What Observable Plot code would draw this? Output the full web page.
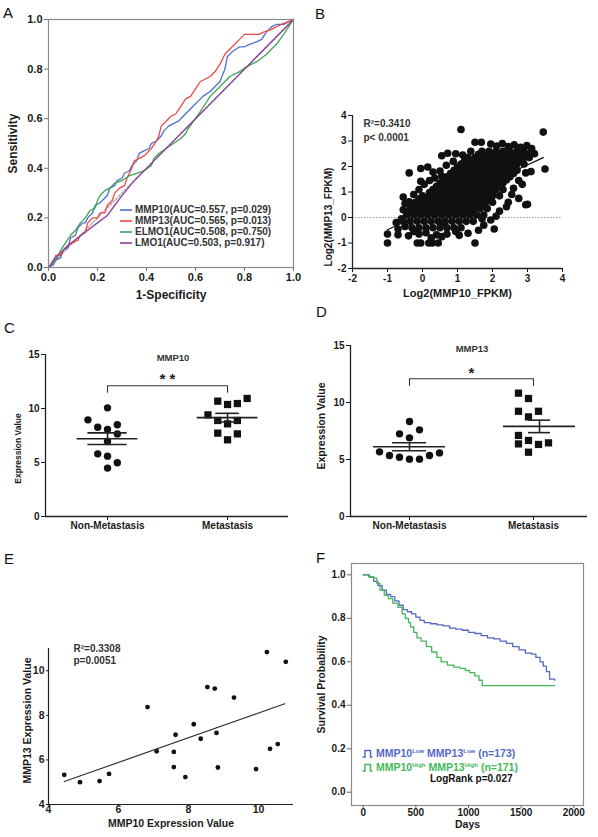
<!DOCTYPE html>
<html><head><meta charset="utf-8">
<script src="https://cdn.jsdelivr.net/npm/d3@7"></script>
<script src="https://cdn.jsdelivr.net/npm/@observablehq/plot@0.6"></script>
<style>
body{margin:0;background:#fff;}
#fig{position:relative;width:598px;height:837px;overflow:hidden;font-family:"Liberation Sans",Arial,Helvetica,sans-serif;background:#fff;}
.panel{position:absolute;}
.letter{position:absolute;font-size:15px;line-height:15px;color:#111;}
.leg{position:absolute;font-weight:bold;white-space:nowrap;display:flex;align-items:center;}
.leg svg{margin-right:3px;}
.leg sup{font-size:6px;vertical-align:4px;}
</style></head><body><div id="fig"></div>
<script>
const FONT = '"Liberation Sans", Arial, Helvetica, sans-serif';

// ---------- Panel A : ROC curves ----------
const rocNames = ["MMP10", "MMP13", "ELMO1", "LMO1"];
const rocLegend = ["MMP10(AUC=0.557, p=0.029)", "MMP13(AUC=0.565, p=0.013)", "ELMO1(AUC=0.508, p=0.750)", "LMO1(AUC=0.503, p=0.917)"];
const rocColors = ["#4d6fd0", "#f04848", "#3ea653", "#8d3f9d"];
const rocTicks = [0, 0.2, 0.4, 0.6, 0.8, 1.0];
const rocMMP10 = [[0,0],[0.02,0.01],[0.03,0.03],[0.05,0.04],[0.06,0.07],[0.08,0.08],[0.09,0.12],[0.11,0.13],[0.12,0.16],[0.14,0.18],[0.15,0.18],[0.16,0.2],[0.18,0.22],[0.19,0.25],[0.21,0.26],[0.22,0.27],[0.24,0.29],[0.25,0.32],[0.27,0.33],[0.28,0.35],[0.3,0.36],[0.31,0.38],[0.33,0.39],[0.34,0.41],[0.36,0.43],[0.37,0.46],[0.39,0.47],[0.41,0.48],[0.42,0.5],[0.44,0.51],[0.46,0.53],[0.47,0.55],[0.49,0.57],[0.51,0.58],[0.53,0.59],[0.54,0.6],[0.57,0.63],[0.59,0.65],[0.61,0.67],[0.63,0.69],[0.66,0.71],[0.68,0.73],[0.7,0.75],[0.72,0.8],[0.73,0.85],[0.75,0.87],[0.78,0.89],[0.8,0.89],[0.82,0.9],[0.85,0.91],[0.87,0.92],[0.89,0.95],[0.91,0.97],[0.93,0.98],[0.96,0.98],[0.98,0.99],[1,1]];
const rocMMP13 = [[0,0],[0.02,0.02],[0.03,0.05],[0.05,0.05],[0.06,0.07],[0.08,0.09],[0.1,0.1],[0.12,0.11],[0.13,0.13],[0.15,0.14],[0.16,0.18],[0.18,0.2],[0.2,0.2],[0.21,0.22],[0.23,0.22],[0.24,0.25],[0.26,0.27],[0.27,0.3],[0.29,0.32],[0.31,0.33],[0.32,0.36],[0.34,0.4],[0.35,0.43],[0.37,0.44],[0.39,0.45],[0.4,0.46],[0.42,0.48],[0.44,0.51],[0.45,0.53],[0.46,0.57],[0.48,0.59],[0.5,0.61],[0.52,0.62],[0.54,0.65],[0.56,0.68],[0.58,0.69],[0.6,0.72],[0.62,0.75],[0.64,0.76],[0.66,0.77],[0.68,0.79],[0.7,0.82],[0.72,0.86],[0.74,0.88],[0.76,0.9],[0.78,0.92],[0.8,0.94],[0.83,0.94],[0.86,0.94],[0.88,0.95],[0.91,0.96],[0.95,0.98],[1,1]];
const rocELMO1 = [[0,0],[0.03,0.03],[0.05,0.07],[0.07,0.1],[0.09,0.13],[0.11,0.15],[0.13,0.18],[0.15,0.2],[0.17,0.23],[0.19,0.24],[0.2,0.27],[0.21,0.29],[0.23,0.31],[0.25,0.32],[0.27,0.34],[0.3,0.35],[0.33,0.37],[0.36,0.38],[0.39,0.39],[0.42,0.41],[0.43,0.44],[0.45,0.46],[0.48,0.48],[0.51,0.5],[0.54,0.52],[0.56,0.54],[0.57,0.56],[0.6,0.6],[0.62,0.63],[0.66,0.69],[0.7,0.73],[0.74,0.77],[0.78,0.79],[0.81,0.81],[0.85,0.83],[0.89,0.86],[0.93,0.9],[0.96,0.94],[1,1]];
const rocLMO1 = [[0,0],[0.02,0.03],[0.04,0.05],[0.08,0.09],[0.12,0.12],[0.16,0.15],[0.2,0.18],[0.24,0.21],[0.27,0.25],[0.3,0.29],[0.35,0.35],[0.45,0.45],[0.6,0.6],[0.8,0.8],[1,1]];
const rocDiag = [0, 1];

// ---------- Panel B : FPKM scatter ----------
const bTicks = [-2, -1, 0, 1, 2, 3, 4];
// dense core, read as rows
const bRowY = [2.6, 2.475, 2.35, 2.225, 2.1, 1.975, 1.85, 1.725, 1.6, 1.475, 1.35, 1.225, 1.1, 0.975, 0.85, 0.725, 0.6, 0.475, 0.35, 0.225, 0.1, -0.15, -0.4];
const bRowX = [
  [1.7, 1.9, 2.1, 2.3, 2.5, 2.7, 2.9],
  [1.6, 1.8, 2.0, 2.2, 2.4, 2.6, 2.8, 3.0],
  [1.3, 1.5, 1.7, 1.9, 2.1, 2.3, 2.5, 2.7, 2.9],
  [1.2, 1.4, 1.6, 1.8, 2.0, 2.2, 2.4, 2.6, 2.8],
  [1.1, 1.3, 1.5, 1.7, 1.9, 2.1, 2.3, 2.5, 2.7],
  [1.0, 1.2, 1.4, 1.6, 1.8, 2.0, 2.2, 2.4, 2.6],
  [0.9, 1.1, 1.3, 1.5, 1.7, 1.9, 2.1, 2.3, 2.5, 2.7],
  [0.8, 1.0, 1.2, 1.4, 1.6, 1.8, 2.0, 2.2, 2.4, 2.6],
  [0.7, 0.9, 1.1, 1.3, 1.5, 1.7, 1.9, 2.1, 2.3, 2.5],
  [0.6, 0.8, 1.0, 1.2, 1.4, 1.6, 1.8, 2.0, 2.2, 2.4],
  [0.5, 0.7, 0.9, 1.1, 1.3, 1.5, 1.7, 1.9, 2.1, 2.3],
  [0.4, 0.6, 0.8, 1.0, 1.2, 1.4, 1.6, 1.8, 2.0, 2.2],
  [0.3, 0.5, 0.7, 0.9, 1.1, 1.3, 1.5, 1.7, 1.9, 2.1, 2.3],
  [0.2, 0.4, 0.6, 0.8, 1.0, 1.2, 1.4, 1.6, 1.8, 2.0],
  [0.0, 0.2, 0.4, 0.6, 0.8, 1.0, 1.2, 1.4, 1.6, 1.8, 2.0, 2.2],
  [-0.1, 0.1, 0.3, 0.5, 0.7, 0.9, 1.1, 1.3, 1.5, 1.7, 1.9],
  [-0.2, 0.0, 0.2, 0.4, 0.6, 0.8, 1.0, 1.2, 1.4, 1.6, 1.8, 2.0],
  [-0.25, -0.05, 0.15, 0.35, 0.55, 0.75, 0.95, 1.15, 1.35, 1.55, 1.75],
  [-0.35, -0.15, 0.05, 0.25, 0.45, 0.65, 0.85, 1.05, 1.25, 1.45, 1.65, 1.85],
  [-0.35, -0.15, 0.05, 0.25, 0.45, 0.65, 0.85, 1.05, 1.25, 1.45],
  [-0.45, -0.25, -0.05, 0.15, 0.35, 0.55, 0.75, 0.95, 1.15, 1.35, 1.55, 1.75],
  [-0.55, -0.35, -0.15, 0.05, 0.25, 0.45, 0.65, 0.85, 1.05, 1.25, 1.45],
  [-0.3, -0.1, 0.1, 0.3, 0.5, 0.7, 0.9, 1.1]
];
// irregular edge and outlying points
const bEdgeX = [1.95, 2.12, 2.28, 2.45, 2.62, 2.8, 2.98, 3.12, 3.2, 3.05, 1.5, 1.68, 1.38, 1.15, 0.95, 0.72, 0.55, 0.88, 0.68, 1.1, 3.45,
  2.9, 2.95, 2.75, 2.85, 3.1, 3.5, 2.6, 2.55, 2.45, 2.4, 2.95, 2.75, 2.2, 2.1, 1.95, 2.05, 1.75, 1.6, 1.7,
  1.5, 1.3, 1.05, 0.95, 0.7, 0.55, 0.4, 0.25, 0.1, -0.1, -0.25, 0.45, 0.28, 0.18, -0.05, -0.15, -0.4, -0.7, -0.7, -1.0, -1.0, -0.5, -0.75, -0.6,
  -0.55, -0.5, -0.55, -0.38, -0.25, -0.1, 0.05, -0.05, 0.2, 0.3, 0.5, 0.35, 0.55, -0.05, -0.38, 0.15, 3.0, 0.6];
const bEdgeY = [2.88, 2.8, 2.9, 2.78, 2.85, 2.75, 2.82, 2.7, 2.5, 2.35, 2.95, 2.95, 2.6, 2.45, 2.5, 2.52, 2.42, 2.2, 2.05, 3.45, 3.35,
  2.1, 1.75, 1.45, 1.3, 1.8, 1.9, 1.15, 0.9, 0.6, 0.42, 0.5, 0.75, 0.25, 0.05, -0.1, -0.45, -0.3, -0.5, -0.05,
  -1.0, -0.62, -0.7, -0.55, -0.65, -0.75, -0.68, -0.8, -0.6, -0.65, -0.55, -1.0, -1.0, -1.0, -1.0, -1.0, -0.72, -0.68, -0.45, -0.65, -1.0, -0.35, -0.2, -0.05,
  0.3, 0.55, 0.8, 0.62, 0.9, 1.1, 1.3, 1.42, 1.45, 1.78, 1.82, 1.55, 1.62, 1.92, 1.75, 1.98, 0.52, -0.2];
const bFitX = [-1.0, 3.45];
const bFitY = [-0.48, 2.35];

// ---------- Panels C, D : dot plots ----------
const groups = ["Non-Metastasis", "Metastasis"];
const cNonV = [10.06, 8.95, 8.27, 8.06, 8.49, 7.65, 6.94, 5.80, 5.59, 4.97, 4.48];
const cNonSlot = [0, -2, -1, 0, 1, 1, 0, -1, 0, 1, 0];
const cMetV = [10.68, 10.37, 10.46, 10.93, 9.41, 8.89, 8.58, 8.89, 7.72, 7.65, 7.10];
const cMetSlot = [-1, 0, 1, 2, -2, -1, 0, 1, -1, 1, 0];
const dNonV = [8.33, 7.6, 7.25, 6.9, 5.67, 5.35, 5.2, 5.03, 5.03, 5.35, 5.58];
const dNonSlot = [0, 1, -1, 0, -3, -2, -1, 0, 1, 2, 3];
const dMetV = [10.82, 10.35, 9.23, 9.23, 8.74, 7.11, 6.67, 6.37, 6.32, 6.46, 5.64];
const dMetSlot = [-1.5, -0.5, -1.5, 0.5, -0.5, -1.5, -0.5, -1.5, 0.5, 1.5, -0.5];
const exprTicks = [0, 5, 10, 15];

// ---------- Panel E : expression scatter ----------
const eX = [4.45, 4.90, 5.46, 5.73, 6.83, 7.09, 7.58, 7.58, 7.63, 7.91, 8.15, 8.35, 8.54, 8.75, 8.80, 8.84, 9.30, 9.93, 10.24, 10.33, 10.55, 10.78];
const eY = [5.33, 5.0, 5.05, 5.37, 8.37, 6.39, 6.36, 5.68, 7.13, 5.23, 7.6, 6.95, 9.27, 9.2, 7.21, 5.66, 8.8, 5.59, 10.84, 6.5, 6.71, 10.4];
const eFitX = [4.45, 10.75];
const eFitY = [5.03, 8.52];
const eTicks = [4, 6, 8, 10];

// ---------- Panel F : survival ----------
const fLowDays = [0, 60, 100, 140, 180, 220, 260, 300, 340, 380, 420, 460, 500, 540, 580, 640, 700, 760, 820, 880, 940, 1000, 1060, 1120, 1180, 1240, 1300, 1360, 1420, 1480, 1540, 1600, 1640, 1680, 1710, 1740, 1770, 1820];
const fLowSurv = [1.0, 0.99, 0.97, 0.95, 0.93, 0.91, 0.9, 0.88, 0.86, 0.84, 0.83, 0.82, 0.805, 0.79, 0.78, 0.775, 0.77, 0.765, 0.755, 0.75, 0.745, 0.735, 0.73, 0.72, 0.71, 0.705, 0.695, 0.685, 0.67, 0.655, 0.64, 0.635, 0.62, 0.6, 0.58, 0.555, 0.52, 0.515];
const fHighDays = [0, 50, 100, 130, 160, 200, 240, 280, 330, 370, 400, 430, 450, 480, 510, 550, 600, 650, 700, 740, 800, 860, 920, 970, 1010, 1060, 1100, 1130, 1820];
const fHighSurv = [1.0, 0.99, 0.985, 0.96, 0.93, 0.905, 0.89, 0.87, 0.85, 0.82, 0.80, 0.78, 0.76, 0.735, 0.71, 0.695, 0.67, 0.645, 0.62, 0.60, 0.585, 0.575, 0.57, 0.56, 0.55, 0.535, 0.515, 0.49, 0.49];
const fColors = ["#5468c6", "#45b85a"];
const fDayTicks = [0, 500, 1000, 1500, 2000];
const fProbTicks = [0, 0.2, 0.4, 0.6, 0.8, 1.0];

// ================= rendering =================
const fig = document.getElementById("fig");
function place(node, left, top) {
  const d = document.createElement("div");
  d.className = "panel"; d.style.left = left + "px"; d.style.top = top + "px";
  d.appendChild(node); fig.appendChild(d); return d;
}
function letter(t, left, top) {
  const d = document.createElement("div");
  d.className = "letter"; d.textContent = t; d.style.left = left + "px"; d.style.top = top + "px";
  fig.appendChild(d);
}
function baseStyle(size) {
  return {fontFamily: FONT, fontSize: size + "px", fontWeight: "bold", color: "#1a1a1a", background: "transparent", overflow: "visible"};
}
const f1 = d3.format(".1f");
const plain = d => String(d);
const ylab = (t, dx, dy, size) => Plot.text([t], {text: d => d, frameAnchor: "left", textAnchor: "middle", dx, dy, rotate: -90, fontSize: size});
const xlab = (t, dy, size) => Plot.text([t], {text: d => d, frameAnchor: "bottom", textAnchor: "middle", dy, fontSize: size});

// Panel A
const rocCurves = [rocMMP10, rocMMP13, rocELMO1, rocLMO1];
const rocRows = rocNames.flatMap((name, i) => rocCurves[i].map(([fpr, tpr]) => ({name, fpr, tpr})));
place(Plot.plot({
  width: 300, height: 310, marginLeft: 48, marginRight: 7, marginTop: 19, marginBottom: 43,
  style: baseStyle(11),
  x: {domain: [0, 1]}, y: {domain: [0, 1]},
  color: {domain: rocNames, range: rocColors},
  marks: [
    Plot.line(rocDiag, {x: d => d, y: d => d, stroke: "#aaa", strokeDasharray: "2,2"}),
    Plot.line(rocRows, {x: "fpr", y: "tpr", z: "name", stroke: "name", strokeWidth: 1.3}),
    Plot.frame({stroke: "#8a8a8a", strokeWidth: 1.2}),
    Plot.axisX({ticks: rocTicks, tickFormat: f1, tickSize: 4, tickPadding: 2, stroke: "#777", label: null}),
    Plot.axisY({ticks: rocTicks, tickFormat: f1, tickSize: 4, tickPadding: 2, stroke: "#777", label: null}),
    xlab("1-Specificity", 31, 12),
    ylab("Sensitivity", -35, 0, 12)
  ]
}), 0, 0);
rocLegend.forEach((t, i) => {
  const d = document.createElement("div");
  d.className = "leg";
  d.style.left = "120px"; d.style.top = (204 + 11 * i) + "px"; d.style.fontSize = "10px"; d.style.color = "#333";
  d.innerHTML = `<svg width="12" height="10"><line x1="0" x2="12" y1="5" y2="5" stroke="${rocColors[i]}" stroke-width="1.6"/></svg><span>${t}</span>`;
  fig.appendChild(d);
});
letter("A", 3, 5);

// Panel B
const bPoints = bRowY.flatMap((y, i) => bRowX[i].map(x => ({x, y}))).concat(bEdgeX.map((x, i) => ({x, y: bEdgeY[i]})));
const bFit = bFitX.map((x, i) => ({x, y: bFitY[i]}));
place(Plot.plot({
  width: 298, height: 310, marginLeft: 52, marginRight: 36, marginTop: 115, marginBottom: 42,
  style: baseStyle(10),
  x: {domain: [bTicks[0], bTicks[bTicks.length - 1]]},
  y: {domain: [bTicks[0], bTicks[bTicks.length - 1]]},
  marks: [
    Plot.ruleY([0], {stroke: "#999", strokeDasharray: "1.5,1.5"}),
    Plot.dot(bPoints, {x: "x", y: "y", r: 3.8, fill: "#111"}),
    Plot.line(bFit, {x: "x", y: "y", stroke: "#111", strokeWidth: 1.3}),
    Plot.ruleX([bTicks[0]], {stroke: "#222", strokeWidth: 1.3}),
    Plot.ruleY([bTicks[0]], {stroke: "#222", strokeWidth: 1.3}),
    Plot.axisX({ticks: bTicks, tickFormat: plain, tickSize: 4, tickPadding: 2, label: null}),
    Plot.axisY({ticks: bTicks, tickFormat: plain, tickSize: 4, tickPadding: 2, label: null}),
    Plot.text(["R\u00b2=0.3410\np< 0.0001"], {text: d => d, frameAnchor: "top-left", dx: 11, dy: 2, textAnchor: "start", lineAnchor: "top", lineHeight: 1.35, fill: "#333"}),
    xlab("Log2(MMP10_FPKM)", 28, 11),
    ylab("Log2(MMP13_FPKM)", -24, 25, 10)
  ]
}), 300, 0);
letter("B", 315, 6);

// Panels C and D
function dotPanel(o) {
  const rows = [];
  o.nonV.forEach((v, i) => rows.push({g: 0, v, xs: o.nonS[i]}));
  o.metV.forEach((v, i) => rows.push({g: 1, v, xs: o.gap + o.metS[i]}));
  const stats = [o.nonV, o.metV].map((vals, g) => {
    const m = d3.mean(vals), s = d3.deviation(vals) / Math.sqrt(vals.length);
    return {g, cx: g * o.gap + o.center[g], m, lo: m - s, hi: m + s};
  });
  const bracket = [[0, o.bracketLo], [0, o.bracketY], [o.gap, o.bracketY], [o.gap, o.bracketLo]];
  return Plot.plot({
    width: o.width, height: o.height, marginLeft: o.ml, marginRight: o.mr, marginTop: o.mt, marginBottom: 30,
    style: baseStyle(10),
    x: {domain: o.xDomain}, y: {domain: [0, 15]},
    marks: [
      Plot.dot(rows.filter(d => d.g === 0), {x: "xs", y: "v", r: 3.7, fill: "#111", symbol: "circle"}),
      Plot.dot(rows.filter(d => d.g === 1), {x: "xs", y: "v", r: 4.1, fill: "#111", symbol: "square"}),
      Plot.ruleY(stats, {y: "m", x1: d => d.cx - o.meanHW, x2: d => d.cx + o.meanHW, stroke: "#222", strokeWidth: 1.6}),
      Plot.ruleY(stats, {y: "lo", x1: d => d.cx - o.capHW[d.g], x2: d => d.cx + o.capHW[d.g], stroke: "#222", strokeWidth: 1.6}),
      Plot.ruleY(stats, {y: "hi", x1: d => d.cx - o.capHW[d.g], x2: d => d.cx + o.capHW[d.g], stroke: "#222", strokeWidth: 1.6}),
      Plot.ruleX(stats, {x: "cx", y1: "lo", y2: "hi", stroke: "#222", strokeWidth: 1.6}),
      Plot.line(bracket, {x: d => d[0], y: d => d[1], stroke: "#333", strokeWidth: 1.1}),
      Plot.text([o.stars], {text: d => d, x: o.gap / 2, y: o.starY, fontSize: 15, fill: "#222"}),
      Plot.text([o.title], {text: d => d, frameAnchor: "top", dx: o.titleDx, dy: 0, fontSize: 9.5, fill: "#333"}),
      Plot.ruleX([o.xDomain[0]], {stroke: "#222", strokeWidth: 1.3}),
      Plot.ruleY([0], {stroke: "#222", strokeWidth: 1.3}),
      Plot.axisX({ticks: [0, o.gap], tickFormat: d => groups[d === 0 ? 0 : 1], tickSize: 4, tickPadding: 1, label: null}),
      Plot.axisY({ticks: exprTicks, tickFormat: plain, tickSize: 4, tickPadding: 2, label: null}),
      ylab("Expression Value", o.ylabDx, o.ylabDy, o.ylabSize)
    ]
  });
}
place(dotPanel({
  nonV: cNonV, nonS: cNonSlot, metV: cMetV, metS: cMetSlot,
  gap: 12.25, xDomain: [-6.33, 18.47], center: [0, 0], meanHW: 3.1, capHW: [2.0, 1.2],
  width: 300, height: 206, ml: 45, mr: 12, mt: 14,
  bracketY: 12.1, bracketLo: 11.5, starY: 12.7, stars: "* *", title: "MMP10", titleDx: 6,
  ylabDx: -27, ylabDy: 13, ylabSize: 8.5
}), 0, 340);
letter("C", 4, 320);
place(dotPanel({
  nonV: dNonV, nonS: dNonSlot, metV: dMetV, metS: dMetSlot,
  gap: 12.4, xDomain: [-5.9, 17.8], center: [0, 0.6], meanHW: 3.6, capHW: [1.7, 1.1],
  width: 298, height: 216, ml: 50, mr: 11, mt: 15,
  bracketY: 12.08, bracketLo: 11.5, starY: 12.6, stars: "*", title: "MMP13", titleDx: 3,
  ylabDx: -29, ylabDy: -5, ylabSize: 10.5
}), 300, 330);
letter("D", 316, 304);

// Panel E
const ePoints = eX.map((x, i) => ({x, y: eY[i]}));
const eFit = eFitX.map((x, i) => ({x, y: eFitY[i]}));
place(Plot.plot({
  width: 300, height: 207, marginLeft: 48, marginRight: 7, marginTop: 18, marginBottom: 33,
  style: baseStyle(10.5),
  x: {domain: [4, 11]}, y: {domain: [4, 11]},
  marks: [
    Plot.dot(ePoints, {x: "x", y: "y", r: 2.4, fill: "#111"}),
    Plot.line(eFit, {x: "x", y: "y", stroke: "#333", strokeWidth: 1.2}),
    Plot.ruleX([4], {stroke: "#222", strokeWidth: 1.2}),
    Plot.ruleY([4], {stroke: "#222", strokeWidth: 1.2}),
    Plot.axisX({ticks: eTicks, tickFormat: plain, tickSize: 1, tickPadding: 0, label: null}),
    Plot.axisY({ticks: eTicks, tickFormat: plain, tickSize: 2, tickPadding: 2, label: null}),
    Plot.text(["R\u00b2=0.3308\np=0.0051"], {text: d => d, frameAnchor: "top-left", dx: 25, dy: -5, textAnchor: "start", lineAnchor: "top", lineHeight: 1.2, fontSize: 10, fill: "#333"}),
    xlab("MMP10 Expression Value", 22, 10.5),
    ylab("MMP13 Expression Value", -21, -6, 10.5)
  ]
}), 0, 630);
letter("E", 4, 551);

// Panel F
const fRows = fLowDays.map((d, i) => ({grp: "low", d, p: fLowSurv[i]}))
  .concat(fHighDays.map((d, i) => ({grp: "high", d, p: fHighSurv[i]})));
place(Plot.plot({
  width: 298, height: 292, marginLeft: 51, marginRight: 15, marginTop: 18, marginBottom: 32,
  style: baseStyle(10),
  x: {domain: [-111, 2092]}, y: {domain: [-0.061, 1.052]},
  color: {domain: ["low", "high"], range: fColors},
  marks: [
    Plot.line(fRows, {x: "d", y: "p", z: "grp", stroke: "grp", curve: "step-after", strokeWidth: 1.3}),
    Plot.frame({stroke: "#8a8a8a", strokeWidth: 1.2}),
    Plot.axisX({ticks: fDayTicks, tickFormat: plain, tickSize: 3, tickPadding: 0, stroke: "#666", label: null}),
    Plot.axisY({ticks: fProbTicks, tickFormat: f1, tickSize: 4, tickPadding: 2, stroke: "#666", label: null}),
    xlab("Days", 22, 10.5),
    ylab("Survival Probability", -30, 0, 10.5)
  ]
}), 300, 545);
const fLegend = [
  {html: "MMP10<sup>Low</sup> MMP13<sup>Low</sup> (n=173)", color: fColors[0]},
  {html: "MMP10<sup>High</sup> MMP13<sup>High</sup> (n=171)", color: fColors[1]}
];
fLegend.forEach((e, i) => {
  const d = document.createElement("div");
  d.className = "leg";
  d.style.left = "362px"; d.style.top = (747 + 14 * i) + "px"; d.style.fontSize = "10.5px"; d.style.color = e.color;
  d.innerHTML = `<svg width="11" height="10"><path d="M0.5,9 H3 V2.5 H8.5 V9 H10.5" fill="none" stroke="${e.color}" stroke-width="1.5"/></svg><span>${e.html}</span>`;
  fig.appendChild(d);
});
{
  const d = document.createElement("div");
  d.className = "leg";
  d.style.left = "430px"; d.style.top = "773px"; d.style.fontSize = "10px"; d.style.color = "#111";
  d.textContent = "LogRank p=0.027";
  fig.appendChild(d);
}
letter("F", 316, 550);
</script></body></html>
